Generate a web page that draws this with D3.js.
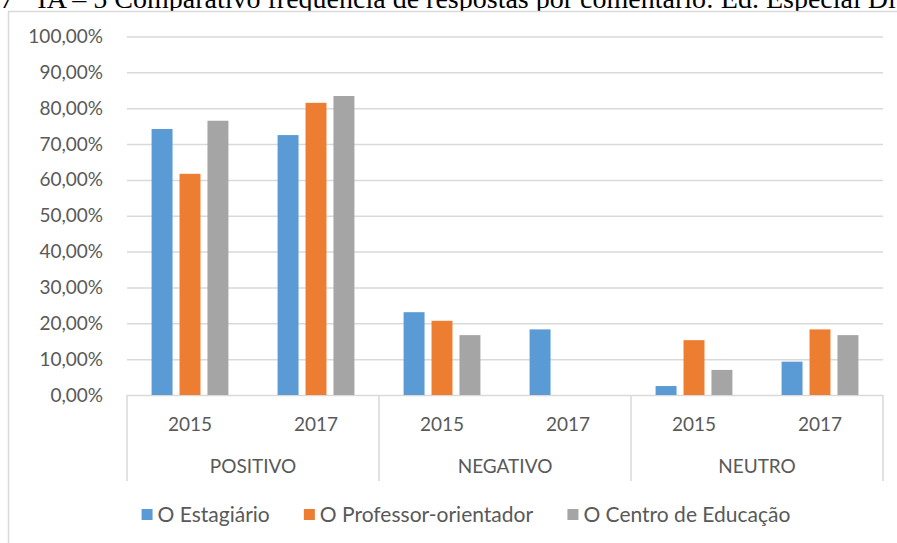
<!DOCTYPE html>
<html>
<head>
<meta charset="utf-8">
<script src="https://cdn.jsdelivr.net/npm/d3@7"></script>
<style>
  body { margin: 0; background: #fff; }
  svg { display: block; }
  .tick text { font-family: Lato, "Open Sans", sans-serif; fill: #595959; }
</style>
</head>
<body>
<div id="chart"></div>
<script>
// data
var categories = ["POSITIVO", "NEGATIVO", "NEUTRO"];
var years = ["2015", "2017"];
var seriesNames = ["O Estagiário", "O Professor-orientador", "O Centro de Educação"];
var colors = ["#5b9bd5", "#ed7d31", "#a5a5a5"];
// one value per (category, year), in order POS15, POS17, NEG15, NEG17, NEU15, NEU17
var estagiario = [74.2, 72.5, 23.1, 18.3, 2.5, 9.3];
var professor  = [61.7, 81.5, 20.7, 0, 15.3, 18.3];
var centro     = [76.5, 83.4, 16.7, 0, 7.0, 16.7];
var yTicks = [0, 10, 20, 30, 40, 50, 60, 70, 80, 90, 100];
var title = "7 · IA – 5 Comparativo frequência de respostas por comentário: Ed. Especial Diurno";

var W = 897, H = 543;
var plotLeft = 127, plotRight = 883, plotTop = 36.5, plotBottom = 395;

var svg = d3.select('#chart').append('svg')
  .attr('width', W)
  .attr('height', H);

// caption cut at the top of the picture
svg.append('text')
  .attr('x', 0)
  .attr('y', 8)
  .attr('font-family', '"Liberation Serif", serif')
  .attr('font-size', 28)
  .attr('fill', '#000')
  .style('white-space', 'pre')
  .text(title);

// chart frame
svg.append('rect')
  .attr('x', 8.5).attr('y', 11.5)
  .attr('width', 900).attr('height', 545)
  .attr('fill', '#fff')
  .attr('stroke', '#d9d9d9')
  .attr('stroke-width', 1.5);

var slots = [];
categories.forEach(function (c) {
  years.forEach(function (y) { slots.push(c + '|' + y); });
});

var all = [estagiario, professor, centro];
var rows = slots.map(function (s, i) {
  return { slot: s, values: all.map(function (arr, k) { return { k: k, v: arr[i] }; }) };
});

var x0 = d3.scaleBand().domain(slots).range([plotLeft, plotRight]).padding(0);
var xCat = d3.scaleBand().domain(categories).range([plotLeft, plotRight]).padding(0);
var x1 = d3.scaleBand().domain([0, 1, 2]).range([0, x0.bandwidth()])
  .paddingInner(0.25).paddingOuter(0.88);
var y = d3.scaleLinear().domain([0, 100]).range([plotBottom, plotTop]);

var ptBR = d3.formatLocale({ decimal: ',', thousands: '.', grouping: [3], currency: ['R$', ''] });
var fmt = ptBR.format('.2f');

// y axis with gridlines
var yAxis = svg.append('g')
  .attr('transform', 'translate(' + plotLeft + ',0)')
  .call(d3.axisLeft(y).tickValues(yTicks)
    .tickSize(-(plotRight - plotLeft)).tickPadding(24)
    .tickFormat(function (d) { return fmt(d) + '%'; }));
yAxis.select('.domain').remove();
yAxis.selectAll('.tick line').attr('stroke', '#d9d9d9').attr('stroke-width', 1.5);
yAxis.selectAll('.tick text').attr('font-size', 19);

// bars
var groups = svg.selectAll('g.slot').data(rows)
  .enter().append('g')
  .attr('class', 'slot')
  .attr('transform', function (d) { return 'translate(' + x0(d.slot) + ',0)'; });

groups.selectAll('rect').data(function (d) { return d.values; })
  .enter().append('rect')
  .attr('x', function (d) { return x1(d.k); })
  .attr('width', x1.bandwidth())
  .attr('y', function (d) { return y(d.v); })
  .attr('height', function (d) { return y(0) - y(d.v); })
  .attr('fill', function (d) { return colors[d.k]; });

// year labels
var xAxis = svg.append('g')
  .attr('transform', 'translate(0,' + plotBottom + ')')
  .call(d3.axisBottom(x0).tickSize(0).tickPadding(23)
    .tickFormat(function (d) { return d.split('|')[1]; }));
xAxis.select('.domain').remove();
xAxis.selectAll('.tick text').attr('font-size', 19);

// category labels
var catAxis = svg.append('g')
  .attr('transform', 'translate(0,' + plotBottom + ')')
  .call(d3.axisBottom(xCat).tickSize(0).tickPadding(65));
catAxis.select('.domain').remove();
catAxis.selectAll('.tick text').attr('font-size', 19);

// separators under the baseline
var edges = categories.map(function (c) { return xCat(c); }).concat([plotRight]);
svg.selectAll('line.sep').data(edges)
  .enter().append('line')
  .attr('class', 'sep')
  .attr('x1', function (d) { return d; })
  .attr('x2', function (d) { return d; })
  .attr('y1', plotBottom)
  .attr('y2', 481)
  .attr('stroke', '#d9d9d9')
  .attr('stroke-width', 1.5);

// legend
var legend = svg.append('g').attr('transform', 'translate(0,515)');
var items = legend.selectAll('g').data(seriesNames)
  .enter().append('g');
items.append('rect')
  .attr('width', 11).attr('height', 11)
  .attr('y', -6)
  .attr('fill', function (d, i) { return colors[i]; });
items.append('text')
  .attr('x', 16)
  .attr('dy', '0.35em')
  .attr('font-family', 'Lato, "Open Sans", sans-serif')
  .attr('font-size', 21)
  .attr('fill', '#595959')
  .text(function (d) { return d; });

var widths = [];
items.each(function () { widths.push(this.getBBox().width); });
var gap = 34;
var total = d3.sum(widths) + gap * (widths.length - 1);
var pos = 466 - total / 2;
items.attr('transform', function (d, i) {
  var p = pos;
  pos += widths[i] + gap;
  return 'translate(' + p + ',0)';
});
</script>
</body>
</html>
